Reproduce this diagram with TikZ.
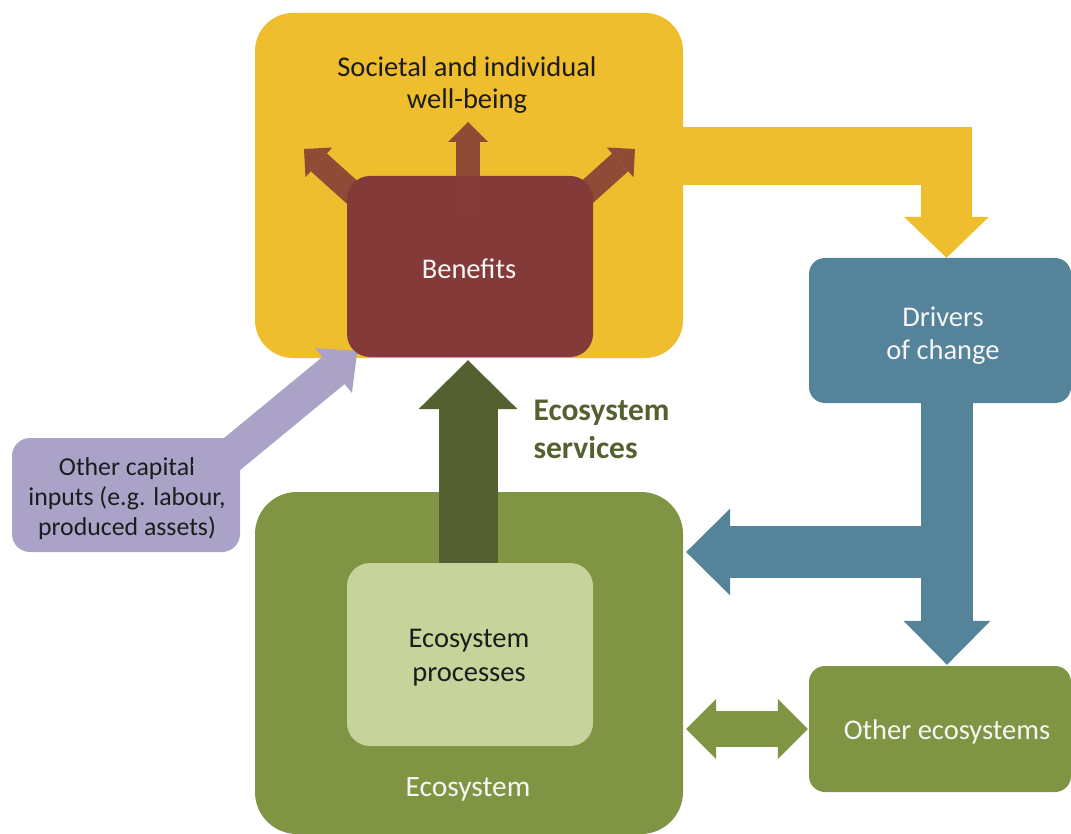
\documentclass[tikz,border=0pt]{standalone}
\usepackage{fontspec}
\setmainfont{Carlito}
\usetikzlibrary{arrows.meta,calc}

\definecolor{cYellow}{RGB}{238,190,46}
\definecolor{cBenefit}{RGB}{132,58,57}
\definecolor{cBrown}{RGB}{142,76,54}
\definecolor{cBlue}{RGB}{85,131,154}
\definecolor{cGreen}{RGB}{127,149,67}
\definecolor{cLight}{RGB}{198,212,155}
\definecolor{cDark}{RGB}{84,96,48}
\definecolor{cPurple}{RGB}{171,162,200}
\definecolor{cInk}{RGB}{28,28,28}
\definecolor{cPaper}{RGB}{246,246,246}

\tikzset{
  panel/.style={fill=#1, inner sep=0pt},
  caption/.style={inner sep=0pt, align=center, font=\fontsize{28.5}{33}\selectfont},
  darktext/.style={text=cInk},
  lighttext/.style={text=cPaper},
  tip/.style n args={2}{-{Triangle[length=#1pt,width=#2pt,line width=0pt]}},
  bigarrow/.style={draw=#1, line cap=butt},
}

\begin{document}
\begin{tikzpicture}[x=1pt,y=-1pt]
\useasboundingbox (0,0) rectangle (1071,834);
\fill[white] (0,0) rectangle (1071,834);

% ---- well-being panel with the benefits box ----
\node[panel=cYellow, rounded corners=38pt, minimum width=428pt, minimum height=345pt] (wellbeing) at (469,185.5) {};
\node[caption, darktext, font=\fontsize{28.5}{32}\selectfont] (wbtext) at (467,85.5) {Societal and individual\\well-being};

% benefits radiating into well-being
\coordinate (bl) at (304,149);
\coordinate (bc) at (468,122);
\coordinate (br) at (635,149);
\draw[bigarrow=cBrown, line width=24pt, tip={20}{40}] (364,203) -- (bl);
\draw[bigarrow=cBrown, line width=24pt, tip={20}{40}] (575,203) -- (br);
\draw[bigarrow=cBrown, line width=24pt, tip={20}{40}] (468,210) -- (bc);

% other capital inputs feeding the benefits
\node[panel=cPurple, rounded corners=18pt, minimum width=228pt, minimum height=114pt] (capital) at (126,495) {};
\node[caption, darktext, font=\fontsize{25.8}{30}\selectfont] (captext) at ($(capital)+(1,4)$)
      {Other capital\\inputs (e.g. labour,\\produced assets)};
\coordinate (ptip) at (357.4,350.8);
\draw[bigarrow=cPurple, line width=35pt, tip={31}{58}] (203,478) -- (ptip);

\node[panel=cBenefit, rounded corners=23pt, minimum width=246pt, minimum height=181pt] (benefits) at (470,266.5) {};
\fill[cBrown, opacity=0.12] (456,176) rectangle (480,210);
\node[caption, lighttext] (bentext) at ($(benefits)+(-1,2)$) {Benefits};

% ---- drivers of change ----
\node[panel=cBlue, rounded corners=16pt, minimum width=262pt, minimum height=145pt] (drivers) at (940,330.5) {};
\node[caption, lighttext] (drvtext) at ($(drivers)+(3,5)$) {Drivers\\of change};

\coordinate (ybend) at (972,156);
\draw[bigarrow=cYellow, line width=58pt] (wellbeing.east |- ybend) -- (ybend);
\draw[bigarrow=cYellow, line width=51pt, tip={41}{85}] (946.5,127) -- (drivers.north -| 946.5,0);

% ---- ecosystem ----
\node[panel=cGreen, rounded corners=42pt, minimum width=428pt, minimum height=342pt] (ecosystem) at (469,663) {};
\node[caption, lighttext, font=\fontsize{29.5}{32}\selectfont] (ecolabel) at (468,789) {Ecosystem};

\node[panel=cGreen, rounded corners=16pt, minimum width=262pt, minimum height=126pt] (others) at (940,729) {};
\node[caption, lighttext] (othtext) at ($(others)+(7,3)$) {Other ecosystems};

% ecosystem services
\draw[bigarrow=cDark, line width=59pt, tip={49}{99}] (468,600) -- ($(benefits.south)+(-2,3)$);
\node[text=cDark, font=\bfseries\fontsize{31.5}{38}\selectfont, align=left, anchor=west] (services) at (530,429.5) {Ecosystem\\services};

\node[panel=cLight, rounded corners=23pt, minimum width=246pt, minimum height=183pt] (processes) at (470,654.5) {};
\node[caption, darktext, font=\fontsize{28.5}{34}\selectfont] (proctext) at ($(processes)+(-1,3)$) {Ecosystem\\processes};

% drivers acting on the ecosystem and on other ecosystems
\coordinate (dx) at (947,0);
\coordinate (branch) at (947,552);
\draw[bigarrow=cBlue, line width=52pt, tip={44}{87}] (drivers.south -| dx) -- ($(others.north -| dx)+(0,-1)$);
\draw[bigarrow=cBlue, line width=52pt, tip={44}{87}] (branch) -- ($(ecosystem.east |- branch)+(3,0)$);

% exchange between ecosystems
\draw[bigarrow=cGreen, line width=36pt,
      {Triangle[length=30pt,width=60pt,line width=0pt]}-{Triangle[length=30pt,width=60pt,line width=0pt]}]
      ($(ecosystem.east |- others.west)+(3,0)$) -- ($(others.west)+(-1,0)$);
\end{tikzpicture}
\end{document}
